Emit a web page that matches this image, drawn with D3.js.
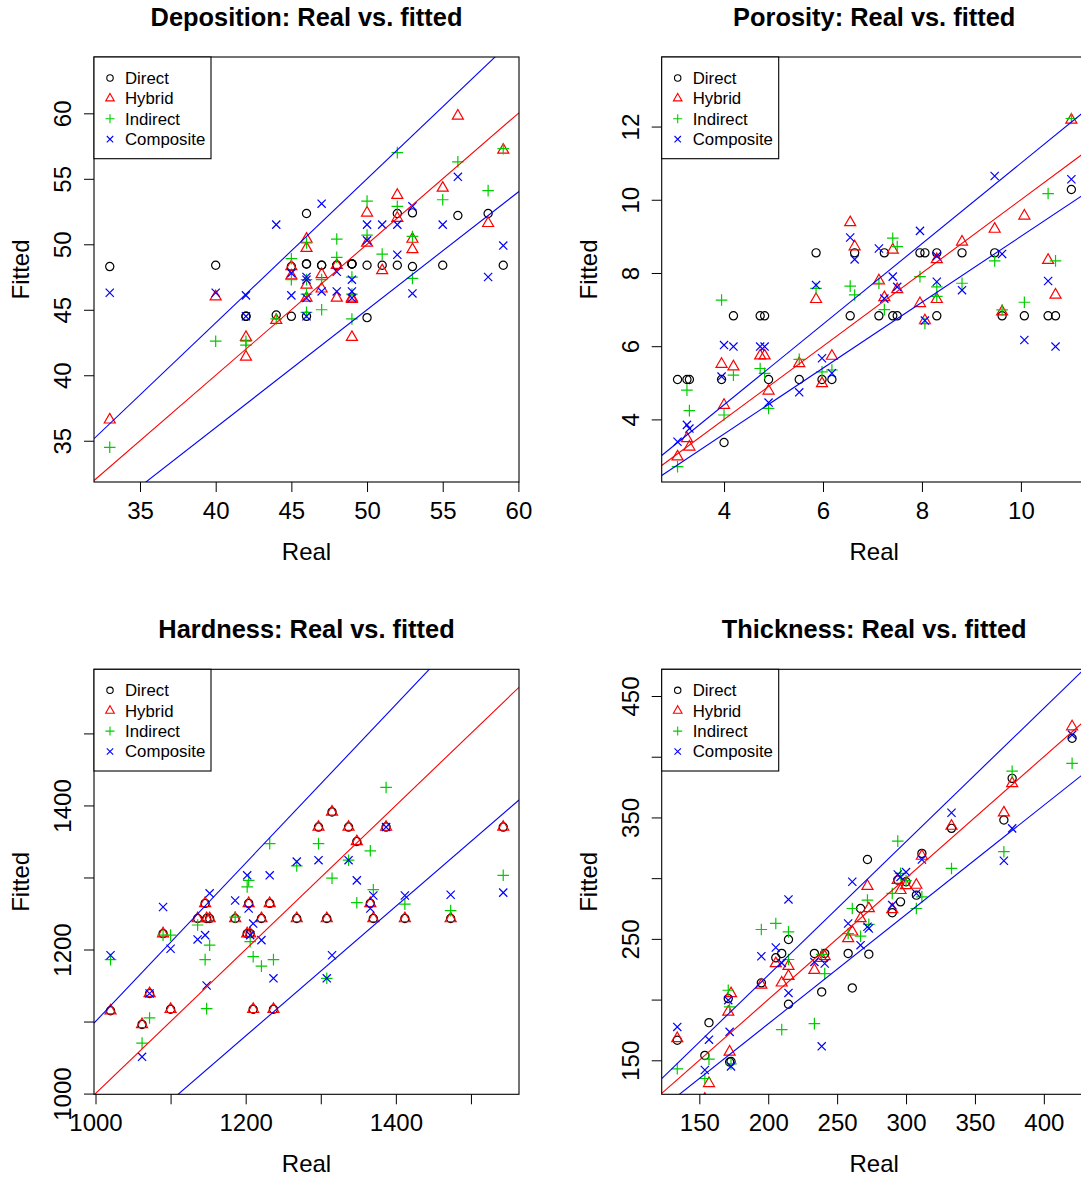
<!DOCTYPE html>
<html>
<head>
<meta charset="utf-8">
<script src="https://d3js.org/d3.v7.min.js"></script>
<style>
  body { margin: 0; background: #fff; }
  svg { font-family: "Liberation Sans", Arial, Helvetica, sans-serif; }
</style>
</head>
<body>
<svg width="1081" height="1177"></svg>
<script>
// ---- data ----
const depReal      = [33,40,42,42,44,45,45,46,46,46,46,47,47,48,48,49,49,49,50,50,51,52,52,53,53,55,56,58,59];
const depDirect    = [48.3,48.4,44.5,44.5,44.6,48.3,44.5,52.35,48.5,44.5,48.5,48.4,48.4,48.4,48.4,48.5,48.5,48.5,48.4,44.4,48.4,52.35,48.4,52.4,48.3,48.4,52.2,52.35,48.4];
const depHybrid    = [36.6,46.0,42.9,41.4,44.2,48.3,47.6,50.4,49.7,46.9,45.9,47.7,46.6,48.4,45.9,45.9,45.8,42.9,52.4,50.1,48.0,53.75,52.0,50.4,49.6,54.3,59.8,51.6,57.2];
const depIndirect  = [34.5,42.6,42.6,42.3,44.3,48.9,47.3,50.1,47.3,46.2,44.8,47.3,45.0,50.4,49.0,47.5,46.2,44.3,53.3,50.7,49.25,57.0,52.9,50.6,47.4,53.4,56.3,54.1,57.3];
const depComposite = [46.3,46.3,46.1,44.5,51.5,47.8,46.1,47.5,47.3,45.9,44.5,53.1,46.4,47.9,46.4,47.3,46.4,45.9,51.5,50.3,51.5,51.5,49.2,52.9,46.25,51.5,55.15,47.5,49.9];

const porReal      = [3.06,3.25,3.3,3.95,4.0,4.19,4.73,4.82,4.9,5.52,5.86,5.98,6.18,6.55,6.64,7.13,7.24,7.41,7.5,7.96,8.06,8.3,8.3,8.81,9.47,9.62,10.07,10.55,10.7,11.02];
const porDirect    = [5.09,5.09,5.09,5.09,3.37,6.83,6.83,6.83,5.09,5.09,8.55,5.09,5.09,6.83,8.55,6.83,8.55,6.83,6.83,8.55,8.55,8.55,6.83,8.55,8.55,6.83,6.83,6.83,6.83,10.28];
const porHybrid    = [2.98,3.48,3.25,5.51,4.39,5.44,5.74,5.74,4.78,5.53,7.28,4.98,5.73,9.38,8.72,7.79,7.33,8.63,7.55,7.17,6.7,8.37,7.28,8.85,9.2,6.94,9.56,8.35,7.4,12.18];
const porIndirect  = [2.71,4.8,4.24,7.26,4.12,5.21,5.39,5.26,4.30,5.64,7.58,5.3,5.35,7.64,7.4,7.72,7.0,8.95,8.72,7.9,6.62,7.62,7.36,7.72,8.33,6.99,7.2,10.17,8.33,12.22];
const porComposite = [3.39,3.85,3.75,5.17,6.03,5.99,5.99,5.99,4.46,4.74,7.67,5.67,5.26,8.97,8.37,8.67,7.3,7.9,7.62,9.15,6.7,8.46,7.76,7.53,10.65,8.52,6.17,7.78,5.99,10.56];

const hrdReal      = [1020,1062,1072,1090,1100,1136,1146,1148,1152,1186,1202,1204,1206,1210,1221,1232,1237,1268,1297,1308,1315,1337,1348,1366,1370,1387,1412,1473,1543];
const hrdDirect    = [1115,1096,1139,1222,1117,1243,1264,1243,1243,1243,1222,1264,1222,1117,1243,1264,1117,1243,1370,1243,1391,1370,1350,1264,1243,1370,1243,1243,1370];
const hrdHybrid    = [1115,1096,1139,1222,1117,1243,1264,1243,1243,1243,1222,1264,1222,1117,1243,1264,1117,1243,1370,1243,1391,1370,1350,1264,1243,1370,1243,1243,1370];
const hrdIndirect  = [1186,1070,1105,1220,1220,1234,1186,1118,1206,1245,1287,1296,1211,1190,1177,1347,1186,1316,1347,1160,1299,1324,1265,1337,1283,1425,1263,1254,1303];
const hrdComposite = [1192,1051,1139,1259,1201,1214,1220,1150,1278,1268,1303,1257,1220,1236,1213,1303,1160,1322,1324,1160,1192,1324,1296,1257,1275,1370,1275,1276,1279];

const thkReal      = [134,154,157,171,172,173,195,205.5,209.8,214.7,214.7,233.5,238.8,241,258,261,267,272,273,290,294,296,300,307.5,311.5,333,371,377,420.5];
const thkDirect    = [166.5,154,181,200.8,148.6,149,213.8,234.4,238,249.5,196.2,238,206.3,238,238,209.6,275,315.4,237.4,271.5,298.4,280.5,297,286,320.4,341,347.9,382.2,415.2];
const thkHybrid    = [168,118,131,189.8,156.9,205,212,229.7,213.8,227.5,219.3,224.2,234,235.5,250.3,255.8,266.8,293.4,275,274.2,298.4,290,294,294.3,318.2,342.9,353.9,378,424.8];
const thkIndirect  = [143,135,151,207.7,194,147,257.7,262.7,175.3,255.8,233,180.2,237.3,221.4,254.4,275,252.2,281.9,262,287.4,330.5,303.9,298,275,284.6,308,321.8,388.1,394.6];
const thkComposite = [177.5,142,167,199.5,173.4,145,235.7,242.9,230.2,282.5,205.5,231,161.5,229.7,262.7,297,244.8,260,258.5,277.8,303,301,305,287.4,315.4,353.9,314.3,341,418];

// ticks and labels
const depTicks = [35,40,45,50,55,60];
const porXTicks = [4,6,8,10];
const porYTicks = [4,6,8,10,12];
const hrdTicks = [1000,1100,1200,1300,1400,1500];
const hrdTickLabels = ['1000','','1200','','1400',''];
const thkXTicks = [150,200,250,300,350,400];
const thkYTicks = [150,200,250,300,350,400,450];
const thkYTickLabels = ['150','','250','','350','','450'];

const seriesNames = ['Direct','Hybrid','Indirect','Composite'];
const seriesColors = ['#000000','#ff0000','#00cd00','#0000ff'];
const seriesShapes = ['circle','triangle','plus','cross'];
const bandSlopes = [1, 1.1, 0.9];   // ideal line and +-10 %

const svg = d3.select('svg');
const size = 425;

// R style point symbols
function shape(kind, r) {
  if (kind === 'circle') {
    return `M${-r},0A${r},${r} 0 1,0 ${r},0A${r},${r} 0 1,0 ${-r},0Z`;
  }
  if (kind === 'triangle') {
    const t = 1.555 * r, b = 0.778 * r, w = 1.347 * r;
    return `M0,${-t}L${w},${b}L${-w},${b}Z`;
  }
  if (kind === 'plus') {
    const a = 1.414 * r;
    return `M${-a},0H${a}M0,${-a}V${a}`;
  }
  return `M${-r},${-r}L${r},${r}M${-r},${r}L${r},${-r}`;
}

const panels = [
  {id: 'dep', title: 'Deposition: Real vs. fitted', left: 94, top: 57,
   xdom: [31.96, 60.04], ydom: [31.85, 64.3],
   xticks: depTicks, xlabels: depTicks.map(String), yticks: depTicks, ylabels: depTicks.map(String),
   real: depReal, fits: [depDirect, depHybrid, depIndirect, depComposite]},
  {id: 'por', title: 'Porosity: Real vs. fitted', left: 661.7, top: 57,
   xdom: [2.74, 11.33], ydom: [2.29, 13.9],
   xticks: porXTicks, xlabels: porXTicks.map(String), yticks: porYTicks, ylabels: porYTicks.map(String),
   real: porReal, fits: [porDirect, porHybrid, porIndirect, porComposite]},
  {id: 'hrd', title: 'Hardness: Real vs. fitted', left: 94, top: 669.3,
   xdom: [998, 1564], ydom: [999, 1589],
   xticks: hrdTicks, xlabels: hrdTickLabels, yticks: hrdTicks, ylabels: hrdTickLabels,
   real: hrdReal, fits: [hrdDirect, hrdHybrid, hrdIndirect, hrdComposite]},
  {id: 'thk', title: 'Thickness: Real vs. fitted', left: 661.7, top: 669.3,
   xdom: [122.7, 431.1], ydom: [122, 472],
   xticks: thkXTicks, xlabels: thkXTicks.map(String), yticks: thkYTicks, ylabels: thkYTickLabels,
   real: thkReal, fits: [thkDirect, thkHybrid, thkIndirect, thkComposite]}
];

panels.forEach(p => {
  const x = d3.scaleLinear().domain(p.xdom).range([p.left, p.left + size]);
  const y = d3.scaleLinear().domain(p.ydom).range([p.top + size, p.top]);
  const bottom = p.top + size;

  svg.append('clipPath').attr('id', 'clip-' + p.id)
    .append('rect').attr('x', p.left).attr('y', p.top).attr('width', size).attr('height', size);

  const plot = svg.append('g').attr('clip-path', `url(#clip-${p.id})`);

  // points, in the order R drew them
  p.fits.forEach((fit, k) => {
    plot.append('g').selectAll('path')
      .data(p.real.map((r, i) => ({r: r, f: fit[i]})))
      .join('path')
      .attr('transform', d => `translate(${x(d.r)},${y(d.f)})`)
      .attr('d', shape(seriesShapes[k], 4.1))
      .attr('fill', 'none')
      .attr('stroke', seriesColors[k])
      .attr('stroke-width', 1.2);
  });

  // y = x and +-10 % lines
  bandSlopes.forEach((s, k) => {
    plot.append('line')
      .attr('x1', x(p.xdom[0])).attr('y1', y(s * p.xdom[0]))
      .attr('x2', x(p.xdom[1])).attr('y2', y(s * p.xdom[1]))
      .attr('stroke', k === 0 ? '#ff0000' : '#0000ff')
      .attr('stroke-width', 1.1);
  });

  // axes
  const xAxis = d3.axisBottom(x).tickValues(p.xticks).tickSize(10).tickSizeOuter(0)
    .tickFormat((d, i) => p.xlabels[i]);
  const gx = svg.append('g').attr('transform', `translate(0,${bottom})`).call(xAxis);
  gx.select('.domain').remove();
  gx.selectAll('.tick line').attr('stroke', '#000');
  gx.selectAll('.tick text').attr('y', 37).attr('dy', null)
    .attr('font-size', 24).attr('font-family', null).attr('fill', '#000');

  const yAxis = d3.axisLeft(y).tickValues(p.yticks).tickSize(10).tickSizeOuter(0)
    .tickFormat((d, i) => p.ylabels[i]);
  const gy = svg.append('g').attr('transform', `translate(${p.left},0)`).call(yAxis);
  gy.select('.domain').remove();
  gy.selectAll('.tick line').attr('stroke', '#000');
  gy.selectAll('.tick text').attr('x', null).attr('dy', null)
    .attr('transform', 'translate(-23,0) rotate(-90)')
    .attr('text-anchor', 'middle')
    .attr('font-size', 24).attr('font-family', null).attr('fill', '#000');

  // frame
  svg.append('rect').attr('x', p.left).attr('y', p.top).attr('width', size).attr('height', size)
    .attr('fill', 'none').attr('stroke', '#000').attr('stroke-width', 1.1);

  // titles and axis labels
  svg.append('text').attr('x', p.left + size / 2).attr('y', p.top - 31)
    .attr('text-anchor', 'middle').attr('font-size', 25.4).attr('font-weight', 'bold')
    .text(p.title);
  svg.append('text').attr('x', p.left + size / 2).attr('y', bottom + 78)
    .attr('text-anchor', 'middle').attr('font-size', 24).text('Real');
  svg.append('text')
    .attr('transform', `translate(${p.left - 65},${p.top + size / 2}) rotate(-90)`)
    .attr('text-anchor', 'middle').attr('font-size', 24).text('Fitted');

  // legend
  const lg = svg.append('g').attr('transform', `translate(${p.left},${p.top})`);
  lg.append('rect').attr('width', 117).attr('height', 101.7)
    .attr('fill', '#fff').attr('stroke', '#000').attr('stroke-width', 1.1);
  seriesNames.forEach((name, k) => {
    const cy = 21 + k * 20.4;
    lg.append('path').attr('transform', `translate(16,${cy})`)
      .attr('d', shape(seriesShapes[k], 3.2))
      .attr('fill', 'none').attr('stroke', seriesColors[k]).attr('stroke-width', 1.1);
    lg.append('text').attr('x', 31).attr('y', cy + 6)
      .attr('font-size', 16.8).text(name);
  });
});
</script>
</body>
</html>
